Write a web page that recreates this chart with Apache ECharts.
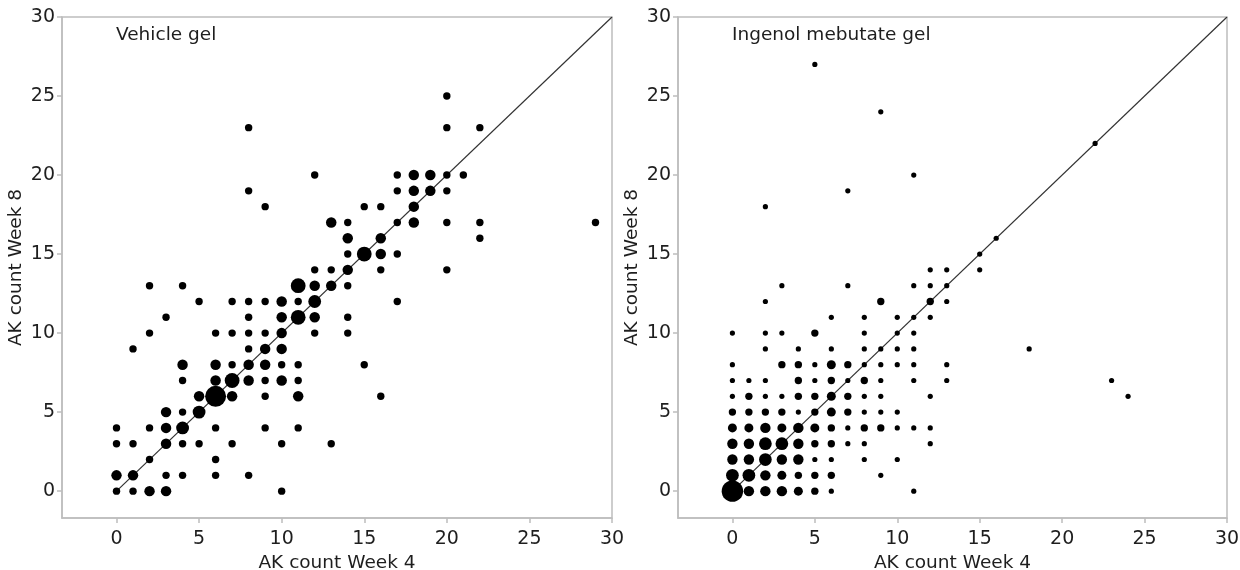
<!DOCTYPE html>
<html>
<head>
<meta charset="utf-8">
<script src="https://cdn.jsdelivr.net/npm/echarts@6/dist/echarts.min.js"></script>
<style>
html,body{margin:0;padding:0;background:#fff;}
#chart{width:1240px;height:570px;}
</style>
</head>
<body>
<div id="chart"></div>
<script>
// ---- Data: [AK count week 4, AK count week 8, number of patients] ----
const panelTitles = ['Vehicle gel', 'Ingenol mebutate gel'];
const xAxisName = 'AK count Week 4';
const yAxisName = 'AK count Week 8';
const tickValues = [0, 5, 10, 15, 20, 25, 30];
const identityLine = [[0, 0], [30, 30]];

const vehiclePoints = [
  [0,0,1],[1,0,1],[2,0,2],[3,0,2],[10,0,1],
  [0,1,2],[1,1,2],[3,1,1],[4,1,1],[6,1,1],[8,1,1],
  [2,2,1],[6,2,1],
  [0,3,1],[1,3,1],[3,3,2],[4,3,1],[5,3,1],[7,3,1],[10,3,1],[13,3,1],
  [0,4,1],[2,4,1],[3,4,2],[4,4,3],[6,4,1],[9,4,1],[11,4,1],
  [3,5,2],[4,5,1],[5,5,3],
  [5,6,2],[6,6,8],[7,6,2],[9,6,1],[11,6,2],[16,6,1],
  [4,7,1],[6,7,2],[7,7,4],[8,7,2],[9,7,1],[10,7,2],[11,7,1],
  [4,8,2],[6,8,2],[7,8,1],[8,8,2],[9,8,2],[10,8,1],[11,8,1],[15,8,1],
  [1,9,1],[8,9,1],[9,9,2],[10,9,2],
  [2,10,1],[6,10,1],[7,10,1],[8,10,1],[9,10,1],[10,10,2],[12,10,1],[14,10,1],
  [3,11,1],[8,11,1],[10,11,2],[11,11,4],[12,11,2],[14,11,1],
  [5,12,1],[7,12,1],[8,12,1],[9,12,1],[10,12,2],[11,12,1],[12,12,3],[17,12,1],
  [2,13,1],[4,13,1],[11,13,4],[12,13,2],[13,13,2],[14,13,1],
  [12,14,1],[13,14,1],[14,14,2],[16,14,1],[20,14,1],
  [14,15,1],[15,15,4],[16,15,2],[17,15,1],
  [14,16,2],[16,16,2],[22,16,1],
  [13,17,2],[14,17,1],[17,17,1],[18,17,2],[20,17,1],[22,17,1],[29,17,1],
  [9,18,1],[15,18,1],[16,18,1],[18,18,2],
  [8,19,1],[17,19,1],[18,19,2],[19,19,2],[20,19,1],
  [12,20,1],[17,20,1],[18,20,2],[19,20,2],[20,20,1],[21,20,1],
  [8,23,1],[20,23,1],[22,23,1],
  [20,25,1]
];

const ingenolPoints = [
  [0,0,17],[1,0,4],[2,0,4],[3,0,4],[4,0,3],[5,0,2],[6,0,1],[11,0,1],
  [0,1,6],[1,1,6],[2,1,4],[3,1,3],[4,1,2],[5,1,2],[6,1,2],[9,1,1],
  [0,2,4],[1,2,4],[2,2,6],[3,2,4],[4,2,4],[5,2,1],[6,2,1],[8,2,1],[10,2,1],
  [0,3,4],[1,3,4],[2,3,6],[3,3,6],[4,3,4],[5,3,2],[6,3,2],[7,3,1],[8,3,1],[12,3,1],
  [0,4,3],[1,4,3],[2,4,4],[3,4,3],[4,4,4],[5,4,3],[6,4,2],[7,4,1],[8,4,2],[9,4,2],[10,4,1],[11,4,1],[12,4,1],
  [0,5,2],[1,5,2],[2,5,2],[3,5,2],[4,5,1],[5,5,2],[6,5,3],[7,5,2],[8,5,1],[9,5,1],[10,5,1],
  [0,6,1],[1,6,2],[2,6,1],[3,6,1],[4,6,2],[5,6,2],[6,6,3],[7,6,2],[8,6,1],[9,6,1],[12,6,1],[24,6,1],
  [0,7,1],[1,7,1],[2,7,1],[4,7,2],[5,7,1],[6,7,2],[7,7,1],[8,7,2],[9,7,1],[11,7,1],[13,7,1],[23,7,1],
  [0,8,1],[3,8,2],[4,8,2],[5,8,1],[6,8,3],[7,8,2],[8,8,1],[9,8,1],[10,8,1],[11,8,1],[13,8,1],
  [2,9,1],[4,9,1],[6,9,1],[8,9,1],[9,9,1],[10,9,1],[11,9,1],[18,9,1],
  [0,10,1],[2,10,1],[3,10,1],[5,10,2],[8,10,1],[10,10,1],[11,10,1],
  [6,11,1],[8,11,1],[10,11,1],[11,11,1],[12,11,1],
  [2,12,1],[9,12,2],[12,12,2],[13,12,1],
  [3,13,1],[7,13,1],[11,13,1],[12,13,1],[13,13,1],
  [12,14,1],[13,14,1],[15,14,1],
  [15,15,1],[16,16,1],[2,18,1],[7,19,1],[11,20,1],[22,22,1],[9,24,1],[5,27,1]
];

// ---- Styling ----
const FONT = 'DejaVu Sans';
const AXIS_COLOR = '#bdbdbd';
const TEXT_COLOR = '#1e1e1e';
const panels = [
  { left: 62, width: 550, base: 7.4, data: vehiclePoints },
  { left: 678, width: 549, base: 5.2, data: ingenolPoints }
];

const chart = echarts.init(document.getElementById('chart'));

const grids = [], xAxes = [], yAxes = [], series = [], titles = [];
panels.forEach((p, i) => {
  grids.push({ left: p.left, top: 17, width: p.width, height: 501, show: true,
    containLabel: false, outerBoundsMode: 'none',
    borderColor: AXIS_COLOR, borderWidth: 1.5, backgroundColor: 'transparent' });
  xAxes.push({
    gridIndex: i, type: 'value', min: -3.3, max: 30,
    name: xAxisName, nameLocation: 'middle', nameGap: 36,
    nameTextStyle: { fontFamily: FONT, fontSize: 18.5, color: TEXT_COLOR },
    axisLine: { show: true, onZero: false, lineStyle: { color: AXIS_COLOR, width: 1.5 } },
    axisTick: { show: true, customValues: tickValues, length: 5, lineStyle: { color: AXIS_COLOR, width: 1.5 } },
    axisLabel: { customValues: tickValues, fontFamily: FONT, fontSize: 19, color: TEXT_COLOR, margin: 12 },
    splitLine: { show: false }
  });
  yAxes.push({
    gridIndex: i, type: 'value', min: -1.7, max: 30,
    name: yAxisName, nameLocation: 'middle', nameGap: 36, nameRotate: 90,
    nameTextStyle: { fontFamily: FONT, fontSize: 18.5, color: TEXT_COLOR },
    axisLine: { show: true, onZero: false, lineStyle: { color: AXIS_COLOR, width: 1.5 } },
    axisTick: { show: true, customValues: tickValues, length: 5, lineStyle: { color: AXIS_COLOR, width: 1.5 } },
    axisLabel: { customValues: tickValues, fontFamily: FONT, fontSize: 19, color: TEXT_COLOR, margin: 7 },
    splitLine: { show: false }
  });
  series.push({
    type: 'line', xAxisIndex: i, yAxisIndex: i, data: identityLine,
    symbol: 'none', silent: true, z: 1,
    lineStyle: { color: '#333', width: 1.2 }
  });
  series.push({
    type: 'scatter', xAxisIndex: i, yAxisIndex: i, data: p.data, z: 2,
    symbolSize: (v) => p.base * Math.sqrt(v[2]),
    itemStyle: { color: '#000', opacity: 1 }
  });
  titles.push({
    text: panelTitles[i], left: p.left + 49, top: 21,
    textStyle: { fontFamily: FONT, fontSize: 18.5, fontWeight: 'normal', color: TEXT_COLOR }
  });
});

chart.setOption({
  animation: false,
  backgroundColor: '#fff',
  title: titles,
  grid: grids,
  xAxis: xAxes,
  yAxis: yAxes,
  series: series
});
</script>
</body>
</html>
